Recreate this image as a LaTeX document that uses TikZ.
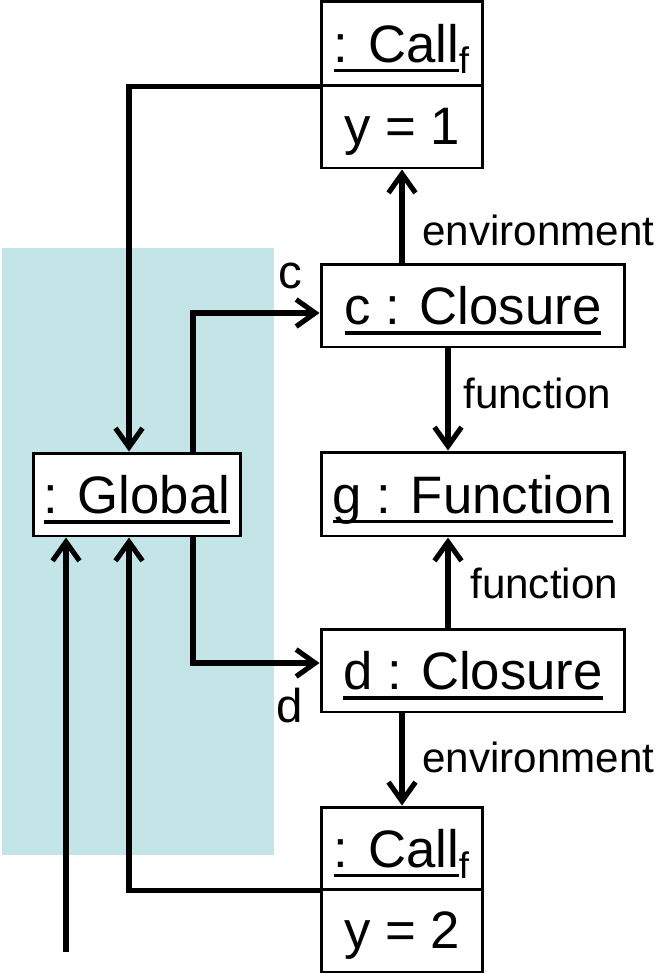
\documentclass[tikz,border=0pt]{standalone}
\usepackage{fontspec}
\setmainfont{Liberation Sans}
\usetikzlibrary{arrows.meta,calc}
\definecolor{panelcol}{RGB}{196,229,231}
\newcommand\objul[1]{\setbox0\hbox{#1}\leavevmode\rlap{\rule[-0.19em]{\wd0}{0.06em}}\box0}
\tikzset{
  obj/.style={draw, line width=1.7pt, fill=white, inner sep=0pt, text depth=0pt, font=\fontsize{30}{36}\selectfont},
  wide/.style={obj, minimum width=6.08cm, minimum height=1.66cm},
  narrow/.style={obj, minimum width=3.24cm, minimum height=1.66cm},
  conn/.style={line width=2.9pt, -{Straight Barb[length=0.38cm,width=0.54cm]}},
  lbl/.style={font=\fontsize{24}{28}\selectfont, inner sep=0pt},
  lblc/.style={font=\fontsize{27}{32}\selectfont, inner sep=0pt}
}
\begin{document}
\begin{tikzpicture}[x=0.02cm,y=-0.02cm]
\useasboundingbox (0,0) rectangle (657,975);
\fill[panelcol] (2,248) rectangle (274,855);
% objects
\node[narrow, minimum height=1.68cm] (callT1) at (402,43) {\objul{: Call}\textsubscript{f}};
\node[narrow] (callT2) at (402,126.5) {y = 1};
\node[wide] (cclo) at (473,305.5) {\objul{c : Closure}};
\node[wide, minimum height=1.68cm] (gfun) at (473,494) {\objul{g : Function}};
\node[obj, minimum width=4.16cm, minimum height=1.66cm] (glob) at (137,494.5) {\objul{: Global}};
\node[wide] (dclo) at (473,670.5) {\objul{d : Closure}};
\node[narrow, minimum height=1.64cm] (callB1) at (402,848) {\objul{: Call}\textsubscript{f}};
\node[narrow] (callB2) at (402,930.5) {y = 2};
\coordinate (start) at (66,952);
% connectors
\draw[conn] (callT1.south west) -| ([xshift=-0.16cm]glob.north);
\draw[conn] (callT2.south |- cclo.north) -- (callT2.south);
\node[lbl, anchor=west] (env1) at (422,230) {environment};
\draw[conn] ([xshift=1.12cm]glob.north) |- ([yshift=-0.15cm]cclo.west);
\node[lblc] (lc) at (290,276) {c};
\draw[conn] ([xshift=-0.5cm]cclo.south) -- ([xshift=-0.5cm]gfun.north);
\node[lbl, anchor=west] (fun1) at (463,393) {function};
\draw[conn] ([xshift=-0.5cm]dclo.north) -- ([xshift=-0.5cm]gfun.south);
\node[lbl, anchor=west] (fun2) at (470,583) {function};
\draw[conn] ([xshift=1.12cm]glob.south) |- ([yshift=0.15cm]dclo.west);
\node[lblc] (ld) at (290,706) {d};
\draw[conn] (callB1.north |- dclo.south) -- (callB1.north);
\node[lbl, anchor=west] (env2) at (422,757) {environment};
\draw[conn] (callB1.south west) -| ([xshift=-0.16cm]glob.south);
\draw[conn] (start) -- (start |- glob.south);
\end{tikzpicture}
\end{document}
